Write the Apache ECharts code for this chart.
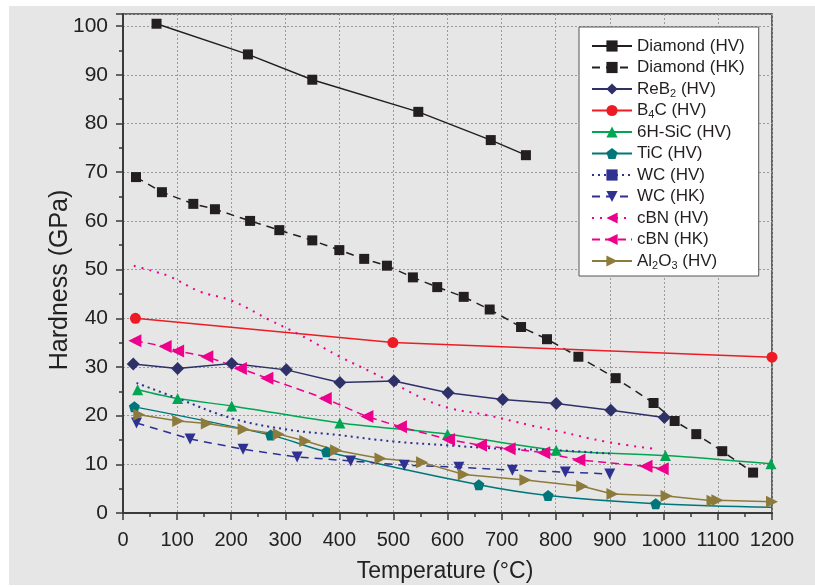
<!DOCTYPE html>
<html>
<head>
<meta charset="utf-8">
<script src="https://cdn.jsdelivr.net/npm/echarts@6/dist/echarts.min.js"></script>
<style>
  html, body { margin: 0; padding: 0; background: #ffffff; }
  #main { position: absolute; left: 9px; top: 6px; width: 806px; height: 579px; }
</style>
</head>
<body>
<div id="main"></div>
<script>
// temperature (°C), hardness (GPa)
const diamondHV = [[62,100.5],[231,94.2],[350,89],[546,82.4],[680,76.6],[745,73.5]];
const diamondHK = [[24,69],[72,65.9],[130,63.5],[170,62.4],[235,60],[289,58.1],[350,56],[400,54],[446,52.2],[488,50.8],[536,48.4],[581,46.4],[630,44.4],[678,41.8],[736,38.2],[784,35.7],[842,32.1],[911,27.7],[981,22.6],[1020,18.9],[1060,16.2],[1108,12.7],[1165,8.3]];
const reb2HV = [[19,30.6],[101,29.7],[201,30.7],[302,29.4],[401,26.8],[501,27.1],[601,24.7],[702,23.3],[801,22.5],[902,21.1],[1001,19.6]];
const b4cHV = [[23,40],[499,35],[1200,32]];
const sicHV = [[27,25.3],[101,23.5],[201,22],[401,18.5],[600,16.2],[801,12.9],[1003,11.8],[1198,10.1]];
const ticHV = [[21,21.8],[273,16],[376,12.6],[658,5.8],[786,3.6],[985,1.9]];
const ticFitEnd = [1200,1.2];
const wcHV = [[25,26.7],[100,23.6],[200,19.5],[300,17.2],[400,16],[500,14.7],[600,13.9],[700,13.2],[800,12.9],[900,12.2]];
const wcHK = [[25,18.5],[124,15.2],[222,13.1],[322,11.5],[421,10.7],[520,9.8],[621,9.4],[720,8.8],[818,8.4],[900,8.0]];
const cbnHV = [[20,50.8],[42,50.1],[86,48.6],[142,45.5],[201,43.6],[272,39.6],[327,36.6],[401,32.1],[464,28.7],[501,26.6],[561,23.2],[605,21.5],[673,20.1],[754,18],[809,16.7],[895,14.6],[982,13.2]];
const cbnHK = [[22,35.4],[78,34.2],[101,33.3],[155,32.1],[217,29.7],[266,27.7],[374,23.5],[451,19.8],[513,17.7],[602,15.1],[661,13.9],[714,13.2],[778,12.4],[843,10.9],[967,9.6],[997,9.1]];
const al2o3HV = [[30,20.2],[102,18.9],[155,18.4],[223,17.2],[288,16.2],[337,14.8],[394,12.9],[476,11.2],[553,10.4],[630,7.9],[744,6.8],[849,5.5],[905,3.9],[1005,3.5],[1090,2.5],[1099,2.6],[1200,2.3]];

const legendLabels = {
  'ReB2 (HV)': 'ReB{s|2} (HV)',
  'B4C (HV)': 'B{s|4}C (HV)',
  'Al2O3 (HV)': 'Al{s|2}O{s|3} (HV)'
};

const pentagon = 'path://M0,-10 L9.51,-3.09 L5.88,8.09 L-5.88,8.09 L-9.51,-3.09 Z';
const font = '"Liberation Sans", Arial, sans-serif';

function line(name, data, color, opts) {
  return Object.assign({
    name: name,
    type: 'line',
    data: data,
    symbol: 'rect',
    symbolSize: 10,
    lineStyle: { color: color, width: 1.5, type: 'solid' },
    itemStyle: { color: color },
    emphasis: { disabled: true },
    z: 3
  }, opts);
}

const chart = echarts.init(document.getElementById('main'));

chart.setOption({
  backgroundColor: '#e6e6e6',
  animation: false,
  grid: {
    left: 114, top: 8, right: 43, bottom: 72,
    show: true, backgroundColor: '#e6e6e6', borderColor: '#3a3a3a', borderWidth: 1.5
  },
  xAxis: {
    type: 'value', min: 0, max: 1200, interval: 100,
    axisLine: { lineStyle: { color: '#3a3a3a', width: 2 } },
    axisTick: { length: 7, lineStyle: { color: '#3a3a3a', width: 1.5 } },
    minorTick: { show: true, splitNumber: 2, length: 4, lineStyle: { color: '#3a3a3a', width: 1.5 } },
    splitLine: { lineStyle: { color: '#9a9a9a', width: 1, type: [2, 2] } },
    axisLabel: { color: '#222', fontSize: 20, fontFamily: font, margin: 17, formatter: v => String(v) }
  },
  yAxis: {
    type: 'value', min: 0, max: 102.5, interval: 10,
    axisLine: { lineStyle: { color: '#3a3a3a', width: 2 } },
    axisTick: { length: 7, lineStyle: { color: '#3a3a3a', width: 1.5 } },
    minorTick: { show: true, splitNumber: 2, length: 4, lineStyle: { color: '#3a3a3a', width: 1.5 } },
    splitLine: { lineStyle: { color: '#9a9a9a', width: 1, type: [2, 2] } },
    axisLabel: {
      color: '#222', fontSize: 21, fontFamily: font, margin: 15,
      formatter: v => (v % 10 === 0 ? String(v) : '')
    }
  },
  legend: {
    orient: 'vertical', left: 570, top: 21,
    backgroundColor: '#ffffff', borderColor: '#555', borderWidth: 1,
    padding: [9, 14, 5, 12],
    itemWidth: 40, itemHeight: 14, itemGap: 1.5,
    formatter: n => legendLabels[n] || n,
    textStyle: {
      color: '#231f20', fontSize: 17, fontFamily: font, lineHeight: 20,
      rich: { s: { fontSize: 11, fontFamily: font, lineHeight: 11, verticalAlign: 'bottom' } }
    }
  },
  graphic: [
    { type: 'text', x: 436, y: 566, style: { text: 'Temperature (°C)', font: '23px ' + font, fill: '#222', align: 'center', verticalAlign: 'middle' } },
    { type: 'text', x: 51, y: 274, rotation: Math.PI / 2, style: { text: 'Hardness (GPa)', font: '25px ' + font, fill: '#222', align: 'center', verticalAlign: 'middle' } }
  ],
  series: [
    line('Diamond (HV)', diamondHV, '#231f20'),
    line('Diamond (HK)', diamondHK, '#231f20', { lineStyle: { color: '#231f20', width: 1.5, type: [8, 6] } }),
    line('ReB2 (HV)', reb2HV, '#2e3068', { symbol: 'diamond', symbolSize: 13 }),
    line('B4C (HV)', b4cHV, '#ed1c24', { symbol: 'circle', symbolSize: 11 }),
    line('6H-SiC (HV)', sicHV, '#00a651', { symbol: 'triangle', symbolSize: 11, smooth: 0.3 }),
    line('TiC (HV)', ticHV.concat([{ value: ticFitEnd, symbol: 'none' }]), '#00767a', { symbol: pentagon, symbolSize: 11, smooth: 0.4 }),
    line('WC (HV)', wcHV, '#2e3192', { symbolSize: 4, showSymbol: false, smooth: 0.4, lineStyle: { color: '#2e3192', width: 2, type: [2, 4] } }),
    line('WC (HK)', wcHK, '#2e3192', { symbol: 'triangle', symbolRotate: 180, symbolSize: 11, lineStyle: { color: '#2e3192', width: 1.5, type: [8, 6] } }),
    line('cBN (HV)', cbnHV, '#ec008c', { symbol: 'triangle', symbolRotate: 90, symbolSize: 5, showSymbol: false, smooth: 0.4, lineStyle: { color: '#ec008c', width: 2, type: [2, 6] } }),
    line('cBN (HK)', cbnHK, '#ec008c', { symbol: 'triangle', symbolRotate: 90, symbolSize: 13, lineStyle: { color: '#ec008c', width: 1.5, type: [8, 5] } }),
    line('Al2O3 (HV)', al2o3HV, '#8d7b3b', { symbol: 'triangle', symbolRotate: -90, symbolSize: 12 })
  ]
});
</script>
</body>
</html>
